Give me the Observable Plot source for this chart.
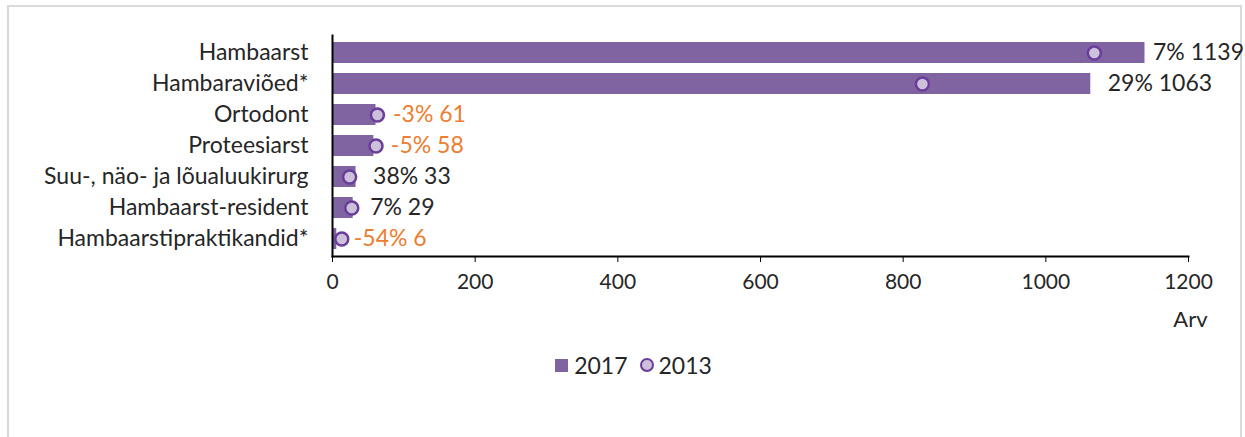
<!DOCTYPE html>
<html>
<head>
<meta charset="utf-8">
<script src="https://cdn.jsdelivr.net/npm/d3@7"></script>
<script src="https://cdn.jsdelivr.net/npm/@observablehq/plot@0.6"></script>
<style>
  body { margin: 0; background: #fff; }
  #wrap { position: relative; width: 1245px; height: 437px; overflow: hidden; background: #fff; }
  #border { position: absolute; left: 7px; top: 5px; width: 1235px; height: 440px; border: 2px solid #d9d9d9; box-sizing: border-box; }
  #chart { position: absolute; left: 0; top: 0; }
  #legend { position: absolute; left: 0; top: 351px; width: 1245px; display: flex; justify-content: center; align-items: center; font-family: "Lato", sans-serif; font-size: 23px; color: #262626; padding-left: 22px; box-sizing: border-box; }
  .item { display: flex; align-items: center; margin: 0 6px; }
  .sw { width: 13px; height: 13px; background: #8064A2; margin-right: 6px; }
  .cir { width: 10px; height: 10px; border-radius: 50%; background: #CCC0DA; border: 2.5px solid #6A3D9A; margin-right: 5px; }
</style>
</head>
<body>
<div id="wrap">
  <div id="border"></div>
  <div id="chart"></div>
  <div id="legend">
    <div class="item"><div class="sw"></div><span>2017</span></div>
    <div class="item"><div class="cir"></div><span>2013</span></div>
  </div>
</div>
<script>
const categories = ["Hambaarst", "Hambaraviõed*", "Ortodont", "Proteesiarst", "Suu-, näo- ja lõualuukirurg", "Hambaarst-resident", "Hambaarstipraktikandid*"];
const values2017 = [1139, 1063, 61, 58, 33, 29, 6];
const values2013 = [1068, 827, 63, 61, 24, 27, 13];
const changes = ["7%", "29%", "-3%", "-5%", "38%", "7%", "-54%"];
const xTicks = [0, 200, 400, 600, 800, 1000, 1200];

const data = categories.map((c, i) => ({cat: c, v2017: values2017[i], v2013: values2013[i], change: changes[i]}));
const neg = d => d.change.startsWith("-");
const lab = d => `${d.change} ${d.v2017}`;

const chart = Plot.plot({
  width: 1245,
  height: 340,
  marginLeft: 332,
  marginRight: 57,
  marginTop: 35,
  marginBottom: 84,
  style: {fontFamily: "Lato, sans-serif", fontSize: "23px", color: "#262626", background: "transparent"},
  x: {domain: [0, 1200]},
  y: {domain: categories, paddingInner: 0.33, paddingOuter: 0.17},
  marks: [
    Plot.barX(data, {x: "v2017", y: "cat", fill: "#8064A2"}),
    Plot.dot(data, {x: "v2013", y: "cat", r: 6.5, fill: "#CCC0DA", stroke: "#6A3D9A", strokeWidth: 2.5}),
    Plot.text(data.filter(d => !neg(d) && d.v2017 < 1100), {x: "v2017", y: "cat", text: lab, textAnchor: "start", dx: 17, fill: "#262626", fontSize: 23}),
    Plot.text(data.filter(d => !neg(d) && d.v2017 >= 1100), {x: "v2017", y: "cat", text: lab, textAnchor: "start", dx: 8, fill: "#262626", fontSize: 23}),
    Plot.text(data.filter(neg), {x: "v2017", y: "cat", text: lab, textAnchor: "start", dx: 17, fill: "#ED7D31", fontSize: 23}),
    Plot.frame({anchor: "left", stroke: "#000", strokeWidth: 2}),
    Plot.frame({anchor: "bottom", stroke: "#000", strokeWidth: 2}),
    Plot.axisX({ticks: xTicks, tickFormat: d3.format("d"), tickSize: 6, tickPadding: 12, label: null, fontSize: 21, stroke: "#000"}),
    Plot.axisY({tickSize: 0, tickPadding: 24, label: null, fontSize: 23}),
    Plot.text(["Arv"], {frameAnchor: "bottom-right", text: d => d, textAnchor: "end", dx: 19, dy: 70, fontSize: 22, fill: "#262626"})
  ]
});
document.getElementById("chart").append(chart);
</script>
</body>
</html>
